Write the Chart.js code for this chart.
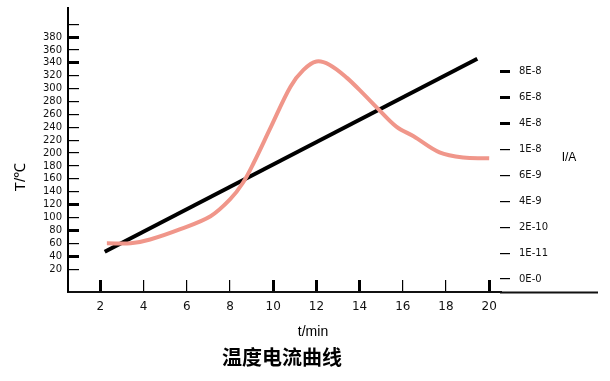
<!DOCTYPE html>
<html>
<head>
<meta charset="utf-8">
<script src="https://cdn.jsdelivr.net/npm/chart.js@4/dist/chart.umd.min.js"></script>
<style>
    body { margin: 0; background: #fff; }
    #wrap { width: 610px; height: 381px; }
</style>
</head>
<body>
<div id="wrap"><canvas id="chart"></canvas></div>
<script>
// temperature curve (left axis, °C)
var tempTimes = [2.3, 3.4, 4.3, 5.7, 7.1, 8.0, 8.6, 9.1, 9.9, 10.8, 11.4, 12.0, 12.6, 13.4, 14.2, 14.9, 15.7, 16.5, 17.7, 18.8, 20.0];
var tempValues = [60, 60, 66, 82, 102, 128, 154, 185, 241, 303, 329, 342, 337, 317, 291, 267, 241, 226, 201, 193, 192];

// current line (right axis, in tick-index units)
var currentTimes = [2.2, 19.45];
var currentValues = [1.05, 8.5];

var xTicks = [2, 4, 6, 8, 10, 12, 14, 16, 18, 20];
var tempTicks = [20, 40, 60, 80, 100, 120, 140, 160, 180, 200, 220, 240, 260, 280, 300, 320, 340, 360, 380, 400];
var currentLabels = ["0E-0", "1E-11", "2E-10", "4E-9", "6E-9", "1E-8", "4E-8", "6E-8", "8E-8"];

var thickX = [2, 10, 12, 14, 20];
var thickTemp = [40, 80, 120, 340, 380];
var thickCurrent = [6, 7, 8];

function noPad(s) {
    s.paddingTop = 0;
    s.paddingBottom = 0;
    s.paddingLeft = 0;
    s.paddingRight = 0;
}

// free texts: title, axis names
var textPlugin = {
    id: 'texts',
    afterDraw: function (chart) {
        var c = chart.ctx;
        var a = chart.chartArea;
        c.save();
        c.fillStyle = '#000';
        c.textAlign = 'center';
        c.textBaseline = 'middle';
        // bottom axis line runs past the plot
        c.strokeStyle = '#111';
        c.lineWidth = 2;
        c.beginPath();
        c.moveTo(a.right, a.bottom + 0.5);
        c.lineTo(598, a.bottom + 0.5);
        c.stroke();

        c.font = '14px "Liberation Sans"';
        c.fillText('t/min', 313, 332);
        c.font = '12px "Liberation Sans"';
        c.fillText('I/A', 569, 158);
        c.font = 'bold 20px "Noto Sans CJK SC"';
        c.fillText('温度电流曲线', 282, 357);
        c.translate(21, 177);
        c.rotate(-Math.PI / 2);
        c.font = '15px "Liberation Sans"';
        c.fillText('T/℃', 0, 0);
        c.restore();
    }
};

var ctx = document.getElementById('chart').getContext('2d');
var chart = new Chart(ctx, {
    type: 'line',
    plugins: [textPlugin],
    data: {
        datasets: [{
            label: 'T',
            data: tempTimes.map(function (t, i) { return { x: t, y: tempValues[i] }; }),
            borderColor: '#f0968a',
            borderWidth: 4,
            pointRadius: 0,
            tension: 0.35,
            yAxisID: 'y'
        }, {
            label: 'I',
            data: currentTimes.map(function (t, i) { return { x: t, y: currentValues[i] }; }),
            borderColor: '#000',
            borderWidth: 4,
            pointRadius: 0,
            yAxisID: 'y1'
        }]
    },
    options: {
        responsive: true,
        maintainAspectRatio: false,
        animation: false,
        layout: { padding: { top: 8, left: 0, right: 0, bottom: 0 } },
        plugins: {
            legend: { display: false },
            title: { display: false },
            tooltip: { enabled: false }
        },
        scales: {
            x: {
                type: 'linear',
                min: 0.5,
                max: 20.5,
                afterBuildTicks: function (s) { s.ticks = xTicks.map(function (v) { return { value: v }; }); },
                afterFit: function (s) { s.height = 89; noPad(s); },
                border: { display: true, color: '#111', width: 2 },
                grid: {
                    drawOnChartArea: false,
                    tickLength: -12,
                    color: '#000',
                    lineWidth: function (c) { return thickX.indexOf(c.tick && c.tick.value) >= 0 ? 3 : 1.2; }
                },
                ticks: {
                    color: '#111',
                    padding: 20,
                    maxRotation: 0,
                    autoSkip: false,
                    font: { family: 'DejaVu Sans', size: 12 }
                }
            },
            y: {
                position: 'left',
                min: -15.5,
                max: 425,
                afterBuildTicks: function (s) { s.ticks = tempTicks.map(function (v) { return { value: v }; }); },
                afterFit: function (s) { s.width = 68; noPad(s); },
                border: { display: true, color: '#000', width: 2 },
                grid: {
                    drawOnChartArea: false,
                    tickLength: -11,
                    color: '#000',
                    lineWidth: function (c) { return thickTemp.indexOf(c.tick && c.tick.value) >= 0 ? 3 : 1.2; }
                },
                ticks: {
                    color: '#111',
                    padding: 17,
                    autoSkip: false,
                    font: { family: 'DejaVu Sans', size: 10 },
                    callback: function (v) { return v === 400 ? '' : v; }
                }
            },
            y1: {
                position: 'right',
                min: -0.5,
                max: 10.46,
                afterBuildTicks: function (s) { s.ticks = currentLabels.map(function (l, i) { return { value: i }; }); },
                afterFit: function (s) { s.width = 110; noPad(s); },
                border: { display: false },
                grid: {
                    drawOnChartArea: false,
                    tickLength: 10,
                    color: '#000',
                    lineWidth: function (c) { return thickCurrent.indexOf(c.tick && c.tick.value) >= 0 ? 3 : 1.2; }
                },
                ticks: {
                    color: '#111',
                    padding: 9,
                    autoSkip: false,
                    font: { family: 'DejaVu Sans', size: 10 },
                    callback: function (v) { return currentLabels[v]; }
                }
            }
        }
    }
});
</script>
</body>
</html>
